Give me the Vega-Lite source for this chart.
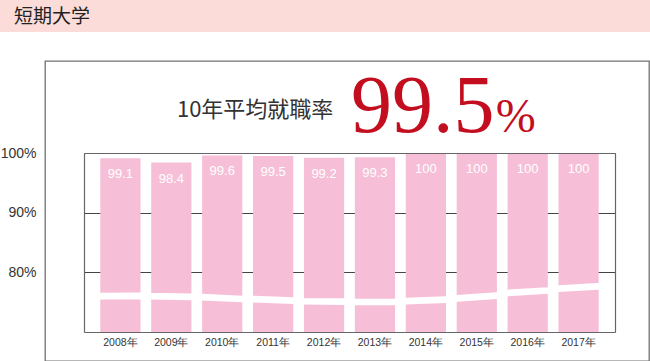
{
  "$schema": "https://vega.github.io/schema/vega-lite/v6.json",
  "padding": 0,
  "background": "white",
  "spacing": 28,
  "config": {"view": {"stroke": null}, "font": "Liberation Sans"},
  "vconcat": [
    {
      "width": 650,
      "height": 32,
      "view": {"fill": "#fcdcd8", "stroke": null},
      "data": {"values": [{"t": "短期大学"}]},
      "mark": {"type": "text", "align": "left", "baseline": "middle", "font": "Noto Sans CJK JP", "fontSize": 19, "color": "#222222", "dy": 1},
      "encoding": {
        "x": {"field": "t", "type": "nominal", "scale": {"type": "point", "range": [14, 650], "padding": 0, "align": 0}, "axis": null},
        "text": {"field": "t", "type": "nominal"}
      }
    },
    {
      "spacing": 8,
      "hconcat": [
        {
          "width": 36,
          "height": 300,
          "data": {"values": [
            {"year": "2008年", "rate": 99.1},
            {"year": "2017年", "rate": 100}
          ]},
          "mark": {"type": "point", "opacity": 0},
          "encoding": {
            "y": {"field": "rate", "type": "quantitative",
              "scale": {"domain": [70, 100], "range": [271, 92], "nice": false, "zero": false},
              "axis": {"orient": "left", "values": [80, 90, 100], "title": null, "labelExpr": "datum.value + '%'", "labelPadding": -36, "labelAlign": "right", "ticks": false, "domain": false, "grid": false, "labelFontSize": 14, "labelColor": "#333333", "labelFont": "Liberation Sans"}}
          }
        },
        {
          "width": 604,
          "height": 300,
          "view": {"stroke": "#707070", "strokeWidth": 1.3},
          "data": {"values": [
            {"year": "2008年", "rate": 99.1},
            {"year": "2009年", "rate": 98.4},
            {"year": "2010年", "rate": 99.6},
            {"year": "2011年", "rate": 99.5},
            {"year": "2012年", "rate": 99.2},
            {"year": "2013年", "rate": 99.3},
            {"year": "2014年", "rate": 100},
            {"year": "2015年", "rate": 100},
            {"year": "2016年", "rate": 100},
            {"year": "2017年", "rate": 100}
          ]},
          "resolve": {"axis": {"x": "independent", "y": "independent"}, "scale": {"xOffset": "independent"}},
          "layer": [
            {
              "mark": {"type": "bar", "color": "#f6bfd7"},
              "encoding": {
                "x": {"field": "year", "type": "nominal", "sort": null,
                  "scale": {"domain": ["2008年","2009年","2010年","2011年","2012年","2013年","2014年","2015年","2016年","2017年"], "range": [39, 570], "paddingInner": 0.21, "paddingOuter": 0.32},
                  "axis": {"orient": "bottom", "offset": -29, "title": null, "domain": true, "domainColor": "#666666", "domainWidth": 1.2, "ticks": false, "labelAngle": 0, "labelPadding": 5, "labelFontSize": 10.5, "labelColor": "#333333", "labelFont": "Liberation Sans", "zindex": 1}},
                "y": {"field": "rate", "type": "quantitative",
                  "scale": {"domain": [70, 100], "range": [271, 92], "nice": false, "zero": false},
                  "axis": {"orient": "left", "offset": -39, "values": [80, 90, 100], "title": null, "labels": false, "ticks": false, "domain": true, "domainColor": "#666666", "domainWidth": 1.2, "grid": true, "gridColor": "#444444", "gridWidth": 1, "zindex": 0}},
                "y2": {"datum": 70}
              }
            },
            {
              "data": {"values": [
                {"year": "2008年", "at": 0, "brk": 76.0}, {"year": "2008年", "at": 1, "brk": 76.07},
                {"year": "2009年", "at": 0, "brk": 76.0}, {"year": "2009年", "at": 1, "brk": 75.9},
                {"year": "2010年", "at": 0, "brk": 75.83}, {"year": "2010年", "at": 1, "brk": 75.53},
                {"year": "2011年", "at": 0, "brk": 75.5}, {"year": "2011年", "at": 1, "brk": 75.25},
                {"year": "2012年", "at": 0, "brk": 75.15}, {"year": "2012年", "at": 1, "brk": 75.08},
                {"year": "2013年", "at": 0, "brk": 75.03}, {"year": "2013年", "at": 1, "brk": 75.03},
                {"year": "2014年", "at": 0, "brk": 75.16}, {"year": "2014年", "at": 1, "brk": 75.41},
                {"year": "2015年", "at": 0, "brk": 75.65}, {"year": "2015年", "at": 1, "brk": 76.09},
                {"year": "2016年", "at": 0, "brk": 76.54}, {"year": "2016年", "at": 1, "brk": 76.96},
                {"year": "2017年", "at": 0, "brk": 77.26}, {"year": "2017年", "at": 1, "brk": 77.66}
              ]},
              "mark": {"type": "line", "color": "white", "strokeWidth": 6.7, "strokeCap": "square"},
              "encoding": {
                "x": {"field": "year", "type": "nominal", "sort": null,
                  "scale": {"domain": ["2008年","2009年","2010年","2011年","2012年","2013年","2014年","2015年","2016年","2017年"], "range": [39, 570], "paddingInner": 0.21, "paddingOuter": 0.32},
                  "axis": null},
                "xOffset": {"field": "at", "type": "quantitative", "scale": {"domain": [0, 1]}},
                "y": {"field": "brk", "type": "quantitative",
                  "scale": {"domain": [70, 100], "range": [271, 92], "nice": false, "zero": false},
                  "axis": null},
                "order": {"value": null}
              }
            },
            {
              "mark": {"type": "text", "color": "white", "fontSize": 13, "font": "Liberation Sans", "baseline": "alphabetic", "dy": 20},
              "encoding": {
                "x": {"field": "year", "type": "nominal", "sort": null,
                  "scale": {"domain": ["2008年","2009年","2010年","2011年","2012年","2013年","2014年","2015年","2016年","2017年"], "range": [39, 570], "paddingInner": 0.21, "paddingOuter": 0.32},
                  "axis": {"orient": "top", "offset": -92, "title": null, "labels": false, "ticks": false, "grid": false, "domain": true, "domainColor": "#666666", "domainWidth": 1.2, "zindex": 1}},
                "y": {"field": "rate", "type": "quantitative",
                  "scale": {"domain": [70, 100], "range": [271, 92], "nice": false, "zero": false},
                  "axis": {"orient": "right", "offset": -34, "title": null, "labels": false, "ticks": false, "grid": false, "domain": true, "domainColor": "#666666", "domainWidth": 1.2, "zindex": 1}},
                "text": {"field": "rate", "type": "quantitative"}
              }
            },
            {
              "data": {"values": [{"t": "10年平均就職率"}]},
              "mark": {"type": "text", "align": "center", "baseline": "alphabetic", "font": "Noto Sans CJK JP", "fontSize": 22, "color": "#333333", "dx": -18},
              "encoding": {
                "x": {"datum": "2011年", "type": "nominal", "axis": null},
                "y": {"datum": 106, "type": "quantitative", "axis": null},
                "text": {"field": "t", "type": "nominal"}
              }
            },
            {
              "data": {"values": [{"t": "99.5"}]},
              "mark": {"type": "text", "align": "left", "baseline": "alphabetic", "font": "Liberation Serif", "fontSize": 82, "color": "#c20e1f", "dx": 27},
              "encoding": {
                "x": {"datum": "2012年", "type": "nominal", "axis": null},
                "y": {"datum": 103.5, "type": "quantitative", "axis": null},
                "text": {"field": "t", "type": "nominal"}
              }
            },
            {
              "data": {"values": [{"t": "%"}]},
              "mark": {"type": "text", "align": "left", "baseline": "alphabetic", "font": "Liberation Serif", "fontSize": 48, "color": "#c20e1f", "dx": 19},
              "encoding": {
                "x": {"datum": "2015年", "type": "nominal", "axis": null},
                "y": {"datum": 103.5, "type": "quantitative", "axis": null},
                "text": {"field": "t", "type": "nominal"}
              }
            }
          ]
        }
      ]
    }
  ]
}
